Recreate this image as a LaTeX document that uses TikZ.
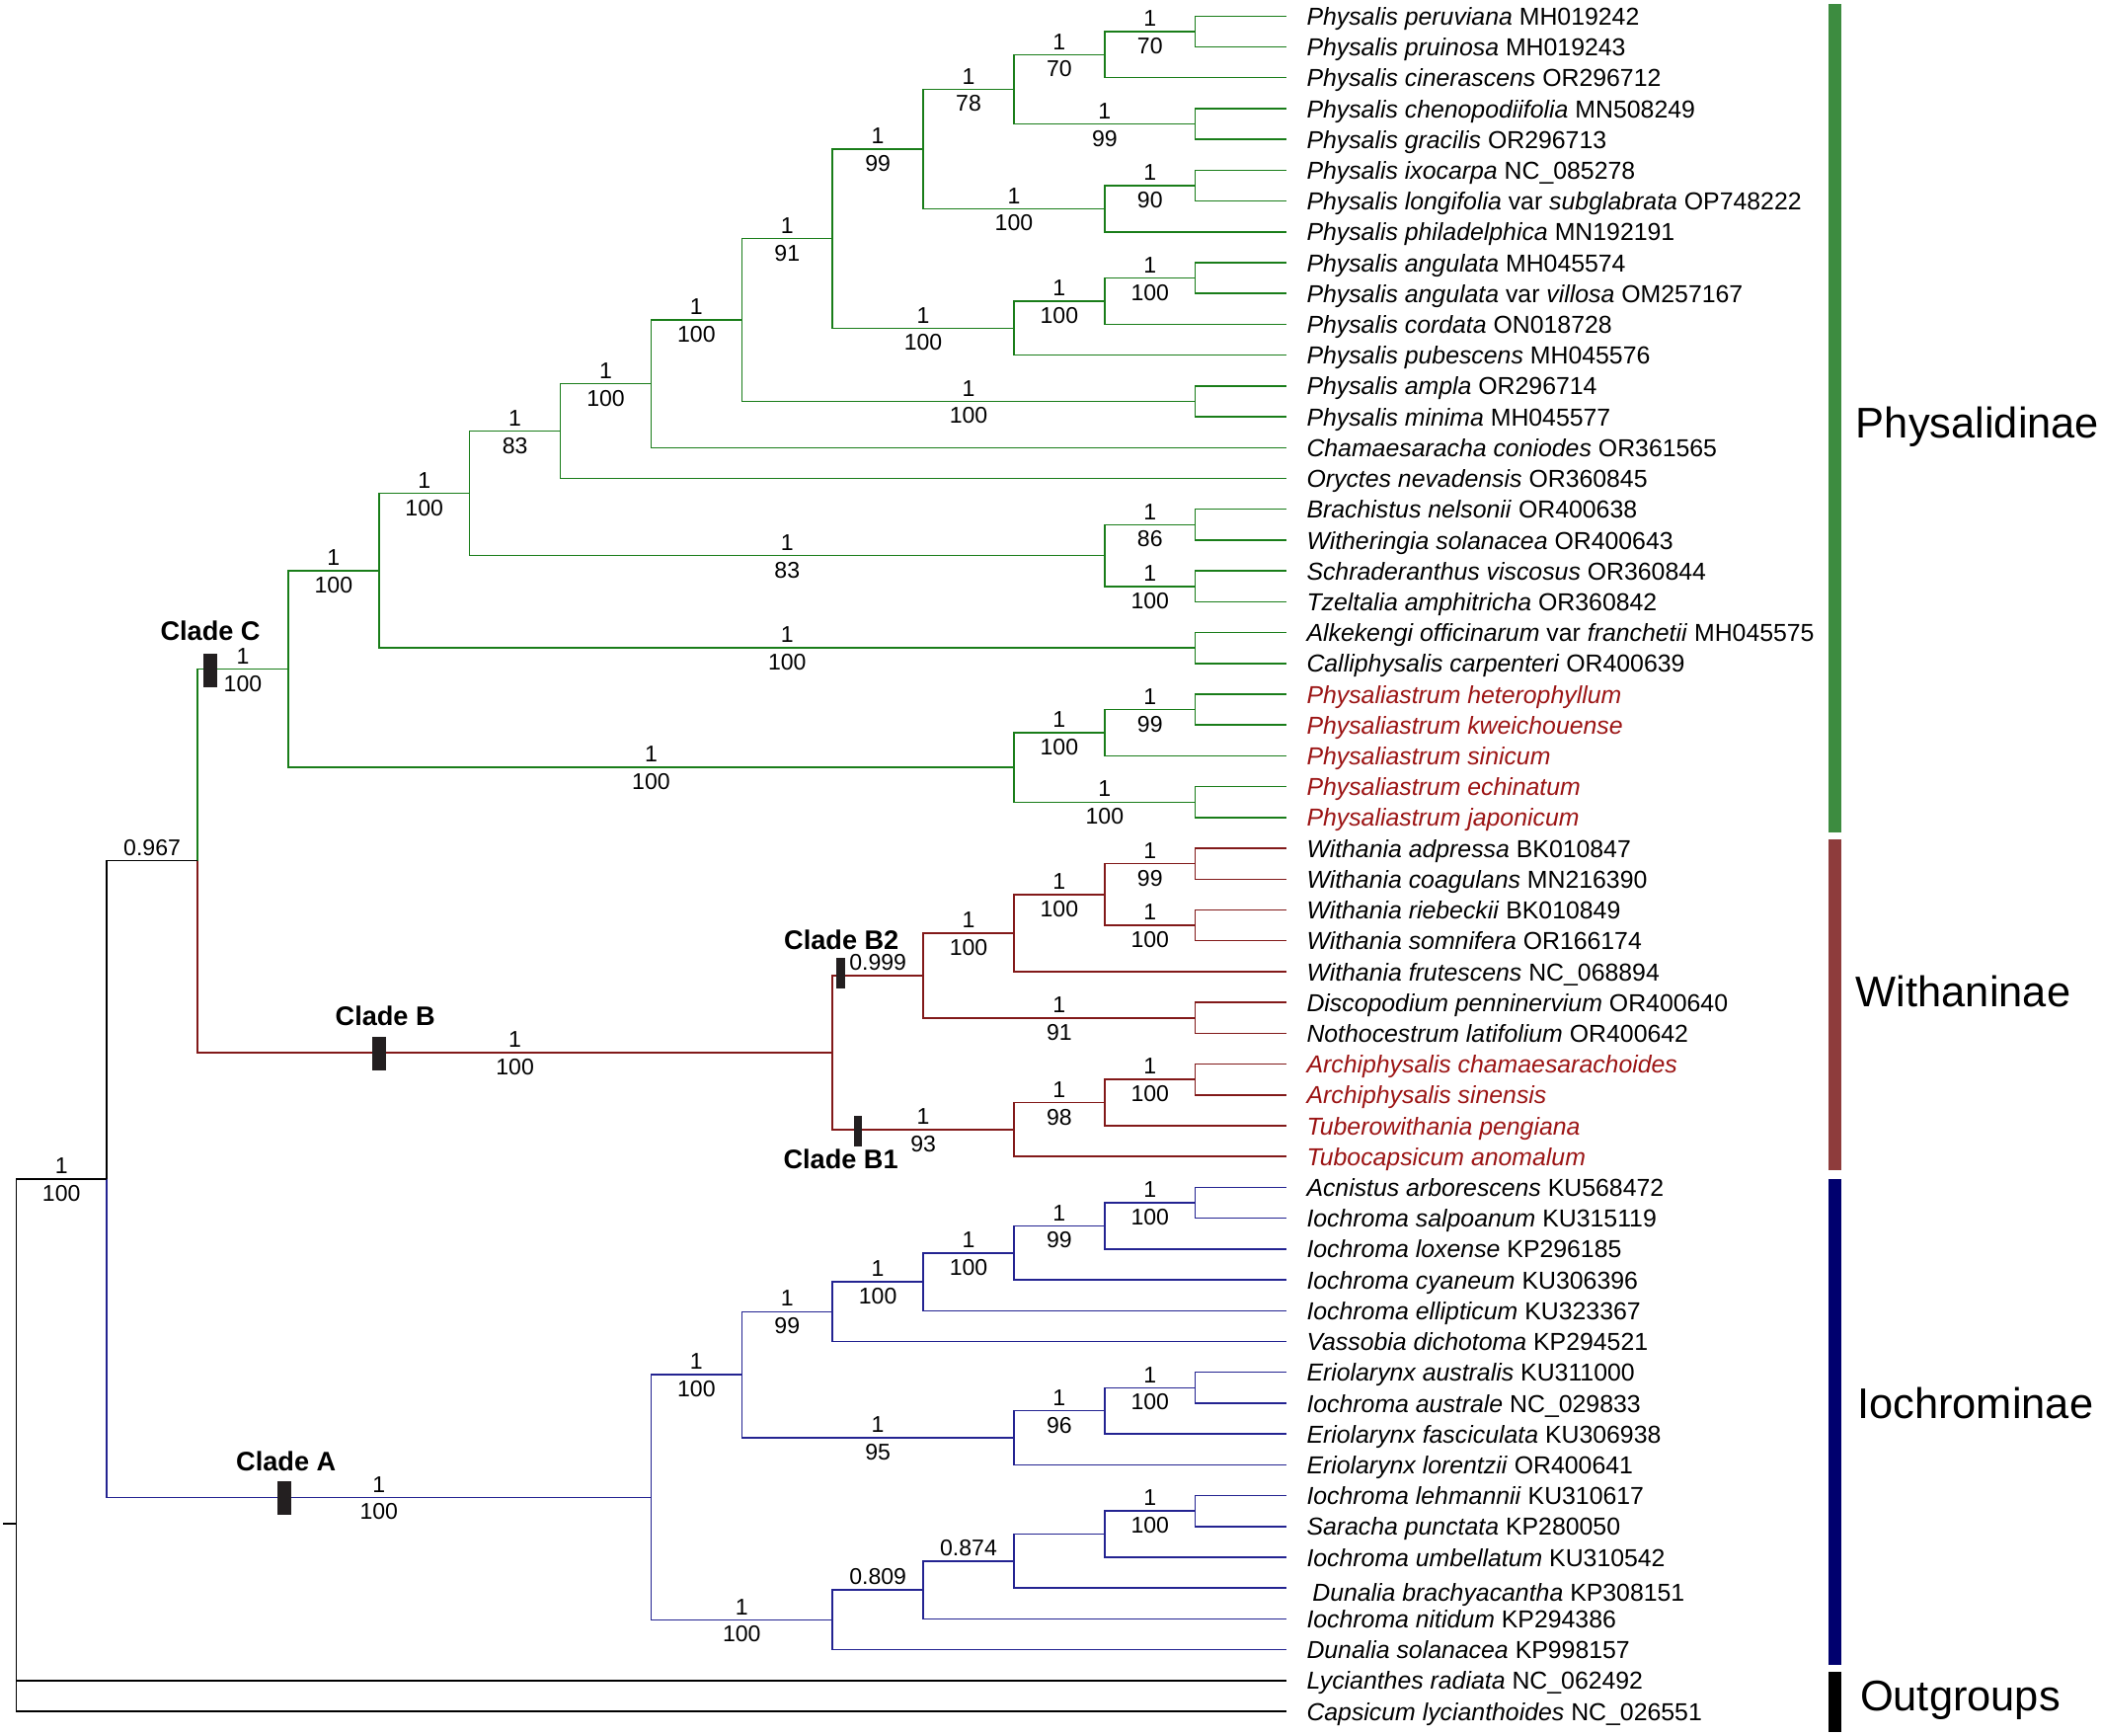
\documentclass[tikz,border=0pt]{standalone}
\usepackage{fontspec}
\setmainfont{Liberation Sans}
\usetikzlibrary{calc}
\definecolor{gline}{RGB}{25,125,25}
\definecolor{rline}{RGB}{130,25,25}
\definecolor{bline}{RGB}{35,35,145}
\definecolor{rtext}{RGB}{155,20,20}
\definecolor{gbar}{RGB}{61,140,64}
\definecolor{rbar}{RGB}{142,60,60}
\definecolor{bbar}{RGB}{0,0,110}
\definecolor{cbarcol}{RGB}{35,31,32}
\newcommand\taxfont{\fontsize{18.3}{20}\selectfont}
\newcommand\lblfont{\fontsize{17}{19}\selectfont}
\newcommand\cladefont{\fontsize{20}{22}\selectfont\bfseries}
\newcommand\grpfont{\fontsize{32}{34}\selectfont}
\newcommand\inode[4]{\coordinate (tmp) at ($(#3)!0.5!(#4)$); \coordinate (#1) at (X#2 |- tmp);}
\newcommand\brn[3]{\draw[#1] (#2) |- (#3);}
\newcommand\brl[5]{\draw[#1] (#2) |- (#3) node[lblT, pos=0.75] {#4} node[lblB, pos=0.75] {#5};}
\newcommand\bro[4]{\draw[#1] (#2) |- (#3) node[lblT, pos=0.75] {#4};}
\newcommand\tx[2]{\node[taxon] (T#1) at ([xshift=15.2pt,yshift=-6.7pt]L#1) {#2};}
\newcommand\rtx[2]{\node[taxon, text=rtext] (T#1) at ([xshift=15.2pt,yshift=-6.7pt]L#1) {\itshape #2};}
\begin{document}
\begin{tikzpicture}[x=1pt,y=-1pt,
  tree/.style={line width=1.1pt},
  G/.style={tree, draw=gline},
  R/.style={tree, draw=rline},
  B/.style={tree, draw=bline},
  K/.style={tree, draw=black},
  lblT/.style={font=\lblfont, anchor=base, yshift=3.9pt, inner sep=0pt, text=black},
  lblB/.style={font=\lblfont, anchor=base, yshift=-16.6pt, inner sep=0pt, text=black},
  taxon/.style={font=\taxfont, anchor=base west, inner sep=0pt, text=black},
  clade/.style={font=\cladefont, anchor=base, inner sep=0pt, text=black},
  cbar/.style={fill=cbarcol, inner sep=0pt, minimum width=10.5pt, minimum height=25pt},
  grp/.style={font=\grpfont, anchor=base west, inner sep=0pt, text=black}]
\useasboundingbox (0,0) rectangle (1568,1295);
\foreach \k in {0,...,14} \coordinate (X\k) at ({12+67.7*\k},0);
\foreach \i in {1,...,56} \coordinate (L\i) at (959.8,{12+23*(\i-1)});
% Physalidinae nodes
\inode{a1}{13}{L1}{L2}
\inode{a2}{12}{a1}{L3}
\inode{a3}{13}{L4}{L5}
\inode{a4}{11}{a2}{a3}
\inode{a5}{13}{L6}{L7}
\inode{a6}{12}{a5}{L8}
\inode{a7}{10}{a4}{a6}
\inode{a8}{13}{L9}{L10}
\inode{a9}{12}{a8}{L11}
\inode{a10}{11}{a9}{L12}
\inode{a11}{9}{a7}{a10}
\inode{a12}{13}{L13}{L14}
\inode{a13}{8}{a11}{a12}
\inode{a14}{7}{a13}{L15}
\inode{a15}{6}{a14}{L16}
\inode{a16}{13}{L17}{L18}
\inode{a17}{13}{L19}{L20}
\inode{a18}{12}{a16}{a17}
\inode{a19}{5}{a15}{a18}
\inode{a20}{13}{L21}{L22}
\inode{a21}{4}{a19}{a20}
\inode{a22}{13}{L23}{L24}
\inode{a23}{12}{a22}{L25}
\inode{a24}{13}{L26}{L27}
\inode{a25}{11}{a23}{a24}
\inode{C}{3}{a21}{a25}
% Withaninae nodes
\inode{b1}{13}{L28}{L29}
\inode{b2}{13}{L30}{L31}
\inode{b3}{12}{b1}{b2}
\inode{b4}{11}{b3}{L32}
\inode{b5}{13}{L33}{L34}
\inode{B2}{10}{b4}{b5}
\inode{b6}{13}{L35}{L36}
\inode{b7}{12}{b6}{L37}
\inode{B1}{11}{b7}{L38}
\inode{Bn}{9}{B2}{B1}
\inode{BC}{2}{C}{Bn}
% Iochrominae nodes
\inode{c1}{13}{L39}{L40}
\inode{c2}{12}{c1}{L41}
\inode{c3}{11}{c2}{L42}
\inode{c4}{10}{c3}{L43}
\inode{c5}{9}{c4}{L44}
\inode{c6}{13}{L45}{L46}
\inode{c7}{12}{c6}{L47}
\inode{c8}{11}{c7}{L48}
\inode{c9}{8}{c5}{c8}
\inode{c10}{13}{L49}{L50}
\inode{c11}{12}{c10}{L51}
\inode{c12}{11}{c11}{L52}
\inode{c13}{10}{c12}{L53}
\inode{c14}{9}{c13}{L54}
\inode{An}{7}{c9}{c14}
\inode{ING}{1}{BC}{An}
\coordinate (tmp) at (barycentric cs:ING=1,L55=1,L56=1);
\coordinate (ROOT) at (X0 |- tmp);
\coordinate (RS) at ($(ROOT)+(-9.5,0)$);
% ---- Physalidinae branches
\brn{G}{a1}{L1} \brn{G}{a1}{L2}
\brl{G}{a2}{a1}{1}{70} \brn{G}{a2}{L3}
\brn{G}{a3}{L4} \brn{G}{a3}{L5}
\brl{G}{a4}{a2}{1}{70} \brl{G}{a4}{a3}{1}{99}
\brn{G}{a5}{L6} \brn{G}{a5}{L7}
\brl{G}{a6}{a5}{1}{90} \brn{G}{a6}{L8}
\brl{G}{a7}{a4}{1}{78} \brl{G}{a7}{a6}{1}{100}
\brn{G}{a8}{L9} \brn{G}{a8}{L10}
\brl{G}{a9}{a8}{1}{100} \brn{G}{a9}{L11}
\brl{G}{a10}{a9}{1}{100} \brn{G}{a10}{L12}
\brl{G}{a11}{a7}{1}{99} \brl{G}{a11}{a10}{1}{100}
\brn{G}{a12}{L13} \brn{G}{a12}{L14}
\brl{G}{a13}{a11}{1}{91} \brl{G}{a13}{a12}{1}{100}
\brl{G}{a14}{a13}{1}{100} \brn{G}{a14}{L15}
\brl{G}{a15}{a14}{1}{100} \brn{G}{a15}{L16}
\brn{G}{a16}{L17} \brn{G}{a16}{L18}
\brn{G}{a17}{L19} \brn{G}{a17}{L20}
\brl{G}{a18}{a16}{1}{86} \brl{G}{a18}{a17}{1}{100}
\brl{G}{a19}{a15}{1}{83} \brl{G}{a19}{a18}{1}{83}
\brn{G}{a20}{L21} \brn{G}{a20}{L22}
\brl{G}{a21}{a19}{1}{100} \brl{G}{a21}{a20}{1}{100}
\brn{G}{a22}{L23} \brn{G}{a22}{L24}
\brl{G}{a23}{a22}{1}{99} \brn{G}{a23}{L25}
\brn{G}{a24}{L26} \brn{G}{a24}{L27}
\brl{G}{a25}{a23}{1}{100} \brl{G}{a25}{a24}{1}{100}
\brl{G}{C}{a21}{1}{100} \brl{G}{C}{a25}{1}{100}
% ---- Withaninae branches
\brn{R}{b1}{L28} \brn{R}{b1}{L29}
\brn{R}{b2}{L30} \brn{R}{b2}{L31}
\brl{R}{b3}{b1}{1}{99} \brl{R}{b3}{b2}{1}{100}
\brl{R}{b4}{b3}{1}{100} \brn{R}{b4}{L32}
\brn{R}{b5}{L33} \brn{R}{b5}{L34}
\brl{R}{B2}{b4}{1}{100} \brl{R}{B2}{b5}{1}{91}
\brn{R}{b6}{L35} \brn{R}{b6}{L36}
\brl{R}{b7}{b6}{1}{100} \brn{R}{b7}{L37}
\brl{R}{B1}{b7}{1}{98} \brn{R}{B1}{L38}
\bro{R}{Bn}{B2}{0.999} \brl{R}{Bn}{B1}{1}{93}
\brl{G}{BC}{C}{1}{100} \brl{R}{BC}{Bn}{1}{100}
% ---- Iochrominae branches
\brn{B}{c1}{L39} \brn{B}{c1}{L40}
\brl{B}{c2}{c1}{1}{100} \brn{B}{c2}{L41}
\brl{B}{c3}{c2}{1}{99} \brn{B}{c3}{L42}
\brl{B}{c4}{c3}{1}{100} \brn{B}{c4}{L43}
\brl{B}{c5}{c4}{1}{100} \brn{B}{c5}{L44}
\brn{B}{c6}{L45} \brn{B}{c6}{L46}
\brl{B}{c7}{c6}{1}{100} \brn{B}{c7}{L47}
\brl{B}{c8}{c7}{1}{96} \brn{B}{c8}{L48}
\brl{B}{c9}{c5}{1}{99} \brl{B}{c9}{c8}{1}{95}
\brn{B}{c10}{L49} \brn{B}{c10}{L50}
\brl{B}{c11}{c10}{1}{100} \brn{B}{c11}{L51}
\brn{B}{c12}{c11} \brn{B}{c12}{L52}
\bro{B}{c13}{c12}{0.874} \brn{B}{c13}{L53}
\bro{B}{c14}{c13}{0.809} \brn{B}{c14}{L54}
\brl{B}{An}{c9}{1}{100} \brl{B}{An}{c14}{1}{100}
% ---- backbone
\bro{K}{ING}{BC}{0.967} \brl{B}{ING}{An}{1}{100}
\brl{K}{ROOT}{ING}{1}{100}
\brn{K}{ROOT}{L55} \brn{K}{ROOT}{L56}
\draw[K] (RS) -- (ROOT);
% ---- clade bars and labels
\node[cbar] (barC) at (156.9,500.5) {};
\node[cbar] (barB) at (282.8,786) {};
\node[cbar, minimum width=6.4pt, minimum height=22.6pt] (barB2) at (627.6,726.1) {};
\node[cbar, minimum width=6.4pt, minimum height=22.8pt] (barB1) at (640.4,844.1) {};
\node[cbar] (barA) at (212,1117.5) {};
\node[clade] (lC) at (157,478) {Clade C};
\node[clade] (lB) at (287.5,765) {Clade B};
\node[clade] (lB2) at (628,708.5) {Clade B2};
\node[clade] (lB1) at (627.5,872) {Clade B1};
\node[clade] (lA) at (213.5,1097.5) {Clade A};
% ---- taxa
\tx{1}{\textit{Physalis peruviana} MH019242}
\tx{2}{\textit{Physalis pruinosa} MH019243}
\tx{3}{\textit{Physalis cinerascens} OR296712}
\tx{4}{\textit{Physalis chenopodiifolia} MN508249}
\tx{5}{\textit{Physalis gracilis} OR296713}
\tx{6}{\textit{Physalis ixocarpa} NC\_085278}
\tx{7}{\textit{Physalis longifolia} var \textit{subglabrata} OP748222}
\tx{8}{\textit{Physalis philadelphica} MN192191}
\tx{9}{\textit{Physalis angulata} MH045574}
\tx{10}{\textit{Physalis angulata} var \textit{villosa} OM257167}
\tx{11}{\textit{Physalis cordata} ON018728}
\tx{12}{\textit{Physalis pubescens} MH045576}
\tx{13}{\textit{Physalis ampla} OR296714}
\tx{14}{\textit{Physalis minima} MH045577}
\tx{15}{\textit{Chamaesaracha coniodes} OR361565}
\tx{16}{\textit{Oryctes nevadensis} OR360845}
\tx{17}{\textit{Brachistus nelsonii} OR400638}
\tx{18}{\textit{Witheringia solanacea} OR400643}
\tx{19}{\textit{Schraderanthus viscosus} OR360844}
\tx{20}{\textit{Tzeltalia amphitricha} OR360842}
\tx{21}{\textit{Alkekengi officinarum} var \textit{franchetii} MH045575}
\tx{22}{\textit{Calliphysalis carpenteri} OR400639}
\rtx{23}{Physaliastrum heterophyllum}
\rtx{24}{Physaliastrum kweichouense}
\rtx{25}{Physaliastrum sinicum}
\rtx{26}{Physaliastrum echinatum}
\rtx{27}{Physaliastrum japonicum}
\tx{28}{\textit{Withania adpressa} BK010847}
\tx{29}{\textit{Withania coagulans} MN216390}
\tx{30}{\textit{Withania riebeckii} BK010849}
\tx{31}{\textit{Withania somnifera} OR166174}
\tx{32}{\textit{Withania frutescens} NC\_068894}
\tx{33}{\textit{Discopodium penninervium} OR400640}
\tx{34}{\textit{Nothocestrum latifolium} OR400642}
\rtx{35}{Archiphysalis chamaesarachoides}
\rtx{36}{Archiphysalis sinensis}
\rtx{37}{Tuberowithania pengiana}
\rtx{38}{Tubocapsicum anomalum}
\tx{39}{\textit{Acnistus arborescens} KU568472}
\tx{40}{\textit{Iochroma salpoanum} KU315119}
\tx{41}{\textit{Iochroma loxense} KP296185}
\tx{42}{\textit{Iochroma cyaneum} KU306396}
\tx{43}{\textit{Iochroma ellipticum} KU323367}
\tx{44}{\textit{Vassobia dichotoma} KP294521}
\tx{45}{\textit{Eriolarynx australis} KU311000}
\tx{46}{\textit{Iochroma australe} NC\_029833}
\tx{47}{\textit{Eriolarynx fasciculata} KU306938}
\tx{48}{\textit{Eriolarynx lorentzii} OR400641}
\tx{49}{\textit{Iochroma lehmannii} KU310617}
\tx{50}{\textit{Saracha punctata} KP280050}
\tx{51}{\textit{Iochroma umbellatum} KU310542}
\node[taxon] (T52) at ([xshift=19.5pt,yshift=-9.5pt]L52) {\textit{Dunalia brachyacantha} KP308151};
\tx{53}{\textit{Iochroma nitidum} KP294386}
\tx{54}{\textit{Dunalia solanacea} KP998157}
\tx{55}{\textit{Lycianthes radiata} NC\_062492}
\tx{56}{\textit{Capsicum lycianthoides} NC\_026551}
% ---- group bars and labels
\fill[gbar] (1364.5,3) rectangle (1374.5,621);
\fill[rbar] (1364.5,626.5) rectangle (1374.5,873.5);
\fill[bbar] (1364.5,879.5) rectangle (1374.5,1242.5);
\fill[black] (1364.5,1247.5) rectangle (1374.5,1292.5);
\node[grp] (gP) at (1385,327) {Physalidinae};
\node[grp] (gW) at (1385,751.5) {Withaninae};
\node[grp] (gI) at (1386,1058.5) {Iochrominae};
\node[grp] (gO) at (1388,1276.5) {Outgroups};
\end{tikzpicture}
\end{document}
